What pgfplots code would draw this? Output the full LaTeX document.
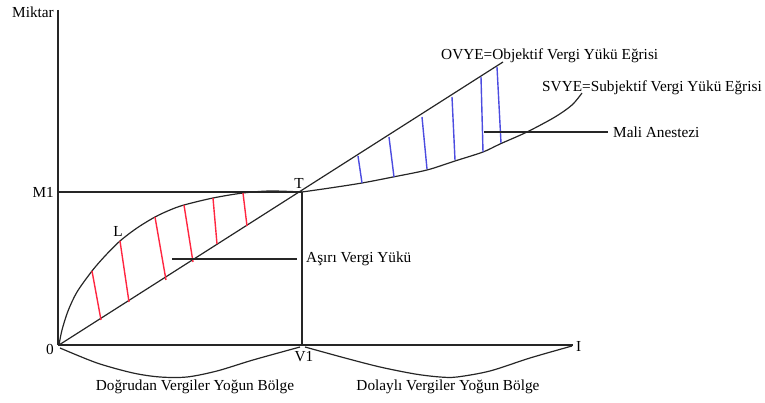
\documentclass[border=0pt]{standalone}
\usepackage{fontspec}
\setmainfont{Liberation Serif}
\usepackage{pgfplots}
\pgfplotsset{compat=1.18}
\definecolor{ln}{rgb}{0.15,0.15,0.15}
\definecolor{hred}{rgb}{1.0,0.15,0.25}
\definecolor{hblue}{rgb}{0.30,0.30,0.88}
\begin{document}
\begin{tikzpicture}[font=\fontsize{15.3}{18}\selectfont]
\begin{axis}[
  scale only axis, width=765pt, height=403pt,
  xmin=0, xmax=765, ymin=-403, ymax=0,
  hide axis, clip=false,
]
\path (rel axis cs:0,0) rectangle (rel axis cs:1,1);
% axes
\addplot[ln, line width=1.6pt] coordinates {(58,-10) (58,-345)};
\addplot[ln, line width=1.6pt] coordinates {(58,-345) (573,-345)};
% M1 and V1 lines
\addplot[ln, line width=1.5pt] coordinates {(58,-192) (302,-192)};
\addplot[ln, line width=1.6pt] coordinates {(302,-345) (302,-192)};
% OVYE
\addplot[ln, line width=1.2pt] coordinates {(59,-345) (503,-62)};
% SVYE left
\addplot[ln, line width=1.2pt, smooth] coordinates {(59,-345) (62,-330) (68,-311) (77,-292) (92,-271) (105,-256) (120,-241) (137,-228) (155,-217) (170,-210) (184,-205) (213,-198) (243,-193) (270,-191) (302,-192)};
% SVYE right
\addplot[ln, line width=1.2pt, smooth] coordinates {(302,-192) (330,-188) (362,-183) (393,-177) (427,-170) (455,-161) (483,-152) (500,-144) (527,-132) (555,-117) (572,-105) (582,-93)};
% red hatch
\addplot[hred, line width=1.4pt] coordinates {(92,-271) (101,-320)};
\addplot[hred, line width=1.4pt] coordinates {(120,-241) (129,-302)};
\addplot[hred, line width=1.4pt] coordinates {(155,-217) (166,-280)};
\addplot[hred, line width=1.4pt] coordinates {(184,-205) (193,-262)};
\addplot[hred, line width=1.4pt] coordinates {(213,-198) (217,-244)};
\addplot[hred, line width=1.4pt] coordinates {(243,-193) (247,-226)};
% blue hatch
\addplot[hblue, line width=1.4pt] coordinates {(358,-156) (362,-183)};
\addplot[hblue, line width=1.4pt] coordinates {(389,-137) (394,-177)};
\addplot[hblue, line width=1.4pt] coordinates {(422,-117) (427,-169)};
\addplot[hblue, line width=1.4pt] coordinates {(452,-97) (455,-160)};
\addplot[hblue, line width=1.4pt] coordinates {(481,-77) (483,-152)};
\addplot[hblue, line width=1.4pt] coordinates {(497,-67) (501,-143)};
% pointers
\addplot[ln, line width=1.2pt] coordinates {(172,-259) (297,-259)};
\addplot[ln, line width=1.2pt] coordinates {(484,-132) (608,-132)};
% lower curves
\addplot[ln, line width=1.2pt, smooth] coordinates {(60,-348) (97,-363) (133,-373) (160,-377) (187,-377) (217,-371) (253,-360) (300,-347)};
\addplot[ln, line width=1.2pt, smooth] coordinates {(305,-347) (345,-358) (380,-367) (415,-374) (440,-377) (457,-377) (490,-371) (530,-358) (572,-346)};
% labels
\node[anchor=east, inner sep=1pt] at (axis cs:55,-12) {Miktar};
\node[anchor=east, inner sep=1pt] at (axis cs:55,-192) {M1};
\node[inner sep=0pt] at (axis cs:50,-349) {0};
\node[inner sep=0pt] at (axis cs:118,-231) {L};
\node[inner sep=0pt] at (axis cs:299,-183) {T};
\node[inner sep=0pt] at (axis cs:304,-357) {V1};
\node[anchor=west, inner sep=1pt] at (axis cs:575,-346) {I};
\node[anchor=west, inner sep=1pt] at (axis cs:305,-259) {Aşırı Vergi Yükü};
\node[anchor=west, inner sep=1pt] at (axis cs:612,-132) {Mali Anestezi};
\node[anchor=west, inner sep=1pt] at (axis cs:440,-56) {OVYE=Objektif Vergi Yükü Eğrisi};
\node[anchor=west, inner sep=1pt] at (axis cs:541,-88) {SVYE=Subjektif Vergi Yükü Eğrisi};
\node[inner sep=0pt] at (axis cs:195,-387) {Doğrudan Vergiler Yoğun Bölge};
\node[inner sep=0pt] at (axis cs:448,-387) {Dolaylı Vergiler Yoğun Bölge};
\end{axis}
\end{tikzpicture}
\end{document}
